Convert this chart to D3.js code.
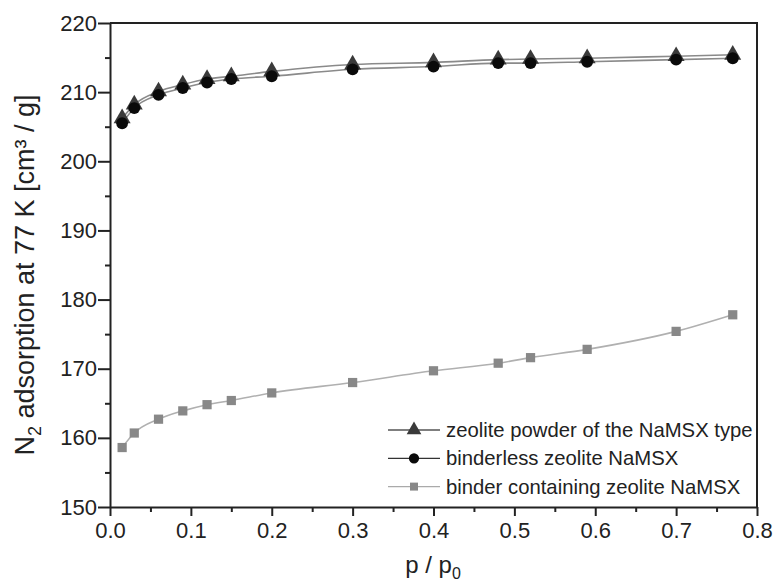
<!DOCTYPE html>
<html>
<head>
<meta charset="utf-8">
<script src="https://cdn.jsdelivr.net/npm/d3@7"></script>
<style>
  body { margin: 0; background: #fff; }
  svg { font-family: "Liberation Sans", Arial, sans-serif; }
  .axis text { fill: #222; font-size: 22px; }
  .axis path, .axis line { stroke: #222; stroke-width: 2; }
</style>
</head>
<body>
<div id="chart"></div>
<script>
const width = 773;
const height = 583;

// relative pressure points
const pressure = [0.015, 0.03, 0.06, 0.09, 0.12, 0.15, 0.2, 0.3, 0.4, 0.48, 0.52, 0.59, 0.7, 0.77];
const powder = [206.2, 208.2, 210.1, 211.1, 211.9, 212.3, 213.0, 214.0, 214.3, 214.7, 214.8, 214.9, 215.2, 215.4];
const binderless = [205.5, 207.7, 209.6, 210.6, 211.4, 211.9, 212.3, 213.3, 213.7, 214.2, 214.2, 214.4, 214.7, 214.9];
const binderContaining = [158.6, 160.7, 162.7, 163.9, 164.8, 165.4, 166.5, 168.0, 169.7, 170.8, 171.6, 172.8, 175.4, 177.8];

const seriesNames = ['zeolite powder of the NaMSX type', 'binderless zeolite NaMSX', 'binder containing zeolite NaMSX'];
const xTicks = [0, 0.1, 0.2, 0.3, 0.4, 0.5, 0.6, 0.7, 0.8];
const yTicks = [150, 160, 170, 180, 190, 200, 210, 220];

const series = [
  { name: seriesNames[0], values: powder, symbol: d3.symbolTriangle, size: 125, fill: '#3a3a3a', line: '#8a8a8a', legendLine: '#555' },
  { name: seriesNames[1], values: binderless, symbol: d3.symbolCircle, size: 110, fill: '#0a0a0a', line: '#8a8a8a', legendLine: '#333' },
  { name: seriesNames[2], values: binderContaining, symbol: d3.symbolSquare, size: 85, fill: '#888', line: '#b0b0b0', legendLine: '#aaa' }
];

const margin = { top: 23, right: 16, bottom: 76, left: 110 };

const svg = d3.select('#chart')
  .append('svg')
  .attr('width', width)
  .attr('height', height);

const xScale = d3.scaleLinear().domain([0, 0.8]).range([margin.left, width - margin.right]);
const yScale = d3.scaleLinear().domain([150, 220]).range([height - margin.bottom, margin.top]);

// minor ticks
svg.append('g')
  .attr('class', 'axis')
  .attr('transform', `translate(0, ${yScale(150)})`)
  .call(d3.axisBottom(xScale).tickValues(d3.range(0.05, 0.8, 0.1)).tickSize(5).tickFormat(''))
  .call(g => g.select('.domain').remove());
svg.append('g')
  .attr('class', 'axis')
  .attr('transform', `translate(${xScale(0)}, 0)`)
  .call(d3.axisLeft(yScale).tickValues(d3.range(155, 220, 10)).tickSize(5).tickFormat(''))
  .call(g => g.select('.domain').remove());

// major axes
svg.append('g')
  .attr('class', 'axis')
  .attr('transform', `translate(0, ${yScale(150)})`)
  .call(d3.axisBottom(xScale).tickValues(xTicks).tickSize(9).tickSizeOuter(0).tickPadding(6).tickFormat(d3.format('.1f')));
svg.append('g')
  .attr('class', 'axis')
  .attr('transform', `translate(${xScale(0)}, 0)`)
  .call(d3.axisLeft(yScale).tickValues(yTicks).tickSize(12).tickSizeOuter(0).tickPadding(1).tickFormat(d3.format('d')));

// top and right frame
svg.append('path')
  .attr('d', `M${xScale(0)},${yScale(220)}H${xScale(0.8)}V${yScale(150)}`)
  .attr('fill', 'none')
  .attr('stroke', '#222')
  .attr('stroke-width', 2);

const line = d3.line()
  .x((d, i) => xScale(pressure[i]))
  .y(d => yScale(d))
  .curve(d3.curveMonotoneX);

series.forEach(s => {
  svg.append('path')
    .attr('d', line(s.values))
    .attr('fill', 'none')
    .attr('stroke', s.line)
    .attr('stroke-width', 1.6);
});

series.forEach(s => {
  svg.append('g')
    .selectAll('path')
    .data(s.values)
    .join('path')
    .attr('transform', (d, i) => `translate(${xScale(pressure[i])}, ${yScale(d)})`)
    .attr('d', d3.symbol().type(s.symbol).size(s.size))
    .attr('fill', s.fill);
});

// legend
const legend = svg.append('g').attr('transform', 'translate(388, 430)');
series.forEach((s, i) => {
  const row = legend.append('g').attr('transform', `translate(0, ${i * 28.3})`);
  row.append('line')
    .attr('x1', 0).attr('x2', 52)
    .attr('stroke', s.legendLine)
    .attr('stroke-width', 1.3);
  row.append('path')
    .attr('transform', 'translate(26, 0)')
    .attr('d', d3.symbol().type(s.symbol).size(s.size * 0.75))
    .attr('fill', s.fill);
  row.append('text')
    .attr('x', 58)
    .attr('dy', '0.35em')
    .attr('fill', '#222')
    .style('font-size', '20.3px')
    .text(s.name);
});

// axis titles
const xTitle = svg.append('text')
  .attr('x', 433)
  .attr('y', 573)
  .attr('text-anchor', 'middle')
  .attr('fill', '#222')
  .style('font-size', '24px');
xTitle.append('tspan').text('p / p');
xTitle.append('tspan').attr('dy', 6).style('font-size', '16px').text('0');

const yTitle = svg.append('text')
  .attr('transform', 'translate(34, 275) rotate(-90)')
  .attr('text-anchor', 'middle')
  .attr('fill', '#222')
  .style('font-size', '27px');
yTitle.append('tspan').text('N');
yTitle.append('tspan').attr('dy', 7).style('font-size', '18px').text('2');
yTitle.append('tspan').attr('dy', -7).text(' adsorption at 77 K [cm³ / g]');
</script>
</body>
</html>
